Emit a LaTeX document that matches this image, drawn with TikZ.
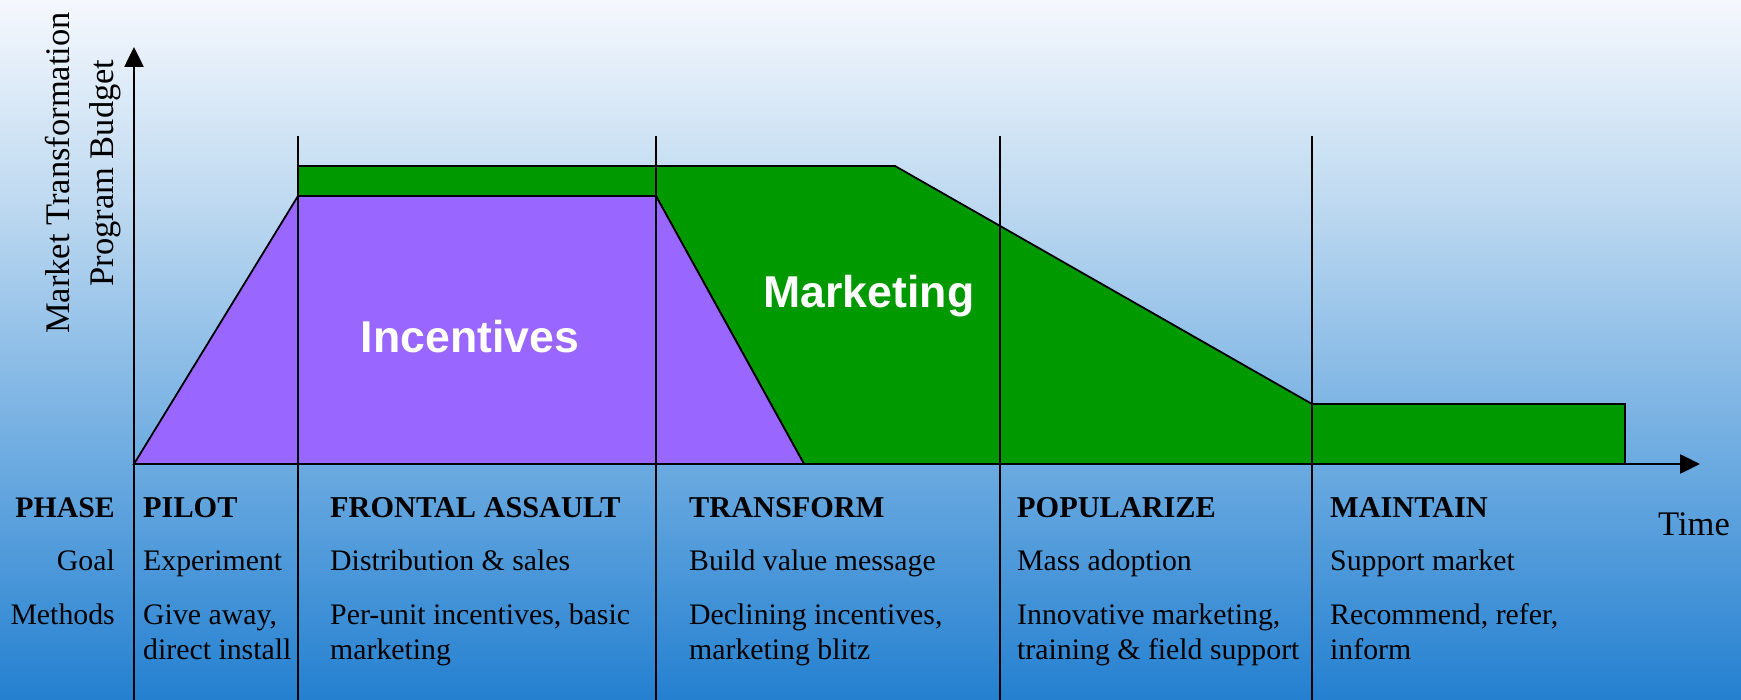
\documentclass[tikz,border=0pt]{standalone}
\usepackage{fontspec}
\setmainfont{Liberation Serif}
\newfontfamily\labelsans{Liberation Sans}
\usetikzlibrary{arrows.meta}

\definecolor{bgA}{RGB}{245,248,253}
\definecolor{bgB}{RGB}{188,216,240}
\definecolor{bgC}{RGB}{110,172,225}
\definecolor{bgD}{RGB}{36,128,208}
\definecolor{incentive}{RGB}{153,102,255}
\definecolor{marketgreen}{RGB}{0,153,0}

% sky background: the filled box spans 25bp..75bp of the shading
\pgfdeclareverticalshading{skyfade}{100bp}{%
  color(0bp)=(bgD); color(25bp)=(bgD); color(42.5bp)=(bgC);
  color(60bp)=(bgB); color(75bp)=(bgA); color(100bp)=(bgA)}

\begin{document}
\begin{tikzpicture}[x=1pt,y=-1pt,
  rule/.style={line width=1.8pt},
  area/.style={draw=black,line width=1.8pt,line join=miter},
  axis/.style={line width=2.6pt,-{Triangle[length=20pt,width=19pt]}},
  cell/.style={anchor=base west,inner sep=0pt,font=\fontsize{29.8}{35}\selectfont},
  cellhead/.style={cell,font=\bfseries\fontsize{30.3}{35}\selectfont},
  rowhead/.style={anchor=base east,inner sep=0pt,font=\fontsize{29.8}{35}\selectfont},
  bigword/.style={anchor=base,inner sep=0pt,text=white,font=\labelsans\bfseries\fontsize{44.6}{50}\selectfont},
  ylabel/.style={anchor=base,inner sep=0pt,rotate=90,font=\fontsize{34.5}{40}\selectfont}
]
\useasboundingbox (0,0) rectangle (1741,700);
\fill[shading=skyfade] (0,0) rectangle (1741,700);

% key points of the budget profile
\coordinate (O)    at (134,464);
\coordinate (upL)  at (298,196);
\coordinate (upR)  at (656,196);
\coordinate (incE) at (804,464);
\coordinate (gL)   at (298,166);
\coordinate (gR)   at (895,166);
\coordinate (mT)   at (1312,404);
\coordinate (mTR)  at (1625,404);
\coordinate (mBR)  at (1625,464);

% marketing budget
\path[area,fill=marketgreen] (upL) -- (gL) -- (gR) -- (mT) -- (mTR) -- (mBR)
  -- (incE) -- (upR) -- cycle;
% incentive budget
\path[area,fill=incentive] (O) -- (upL) -- (upR) -- (incE) -- cycle;

% phase dividers
\foreach \n/\x in {1/298,2/656,3/1000,4/1312}{
  \coordinate (d\n t) at (\x,136);
  \coordinate (d\n b) at (\x,700);
  \draw[rule] (d\n t) -- (d\n b);
}

% axes
\coordinate (ybot) at (134,700);
\coordinate (ytop) at (134,47);
\coordinate (xend) at (1700,464);
\draw[axis] (ybot) -- (ytop);
\draw[axis] (O) -- (xend);

% area labels
\node[bigword] (inc) at (470,353) {Incentives};
\node[bigword] (mkt) at (869,308) {Marketing};

% axis labels
\node[ylabel] (yl1) at (69,173) {Market Transformation};
\node[ylabel] (yl2) at (113,173) {Program Budget};
\node[anchor=base west,inner sep=0pt,font=\fontsize{34.5}{38}\selectfont] (time) at (1658,535) {Time};

% row headings
\node[rowhead,font=\bfseries\fontsize{29.8}{35}\selectfont] (hphase) at (115,517) {PHASE};
\node[rowhead] (hgoal) at (115,570) {Goal};
\node[rowhead] (hmeth) at (115,624) {Methods};

% phase columns
\foreach \k/\x/\ph/\goal/\ma/\mb in {
  1/143/PILOT/Experiment/{Give away,}/{direct install},
  2/330/FRONTAL ASSAULT/{Distribution \& sales}/{Per-unit incentives, basic}/marketing,
  3/689/TRANSFORM/Build value message/{Declining incentives,}/marketing blitz,
  4/1017/POPULARIZE/Mass adoption/{Innovative marketing,}/{training \& field support},
  5/1330/MAINTAIN/Support market/{Recommend, refer,}/inform}{
  \node[cellhead] (ph\k) at (\x,517) {\ph};
  \node[cell] (goal\k) at (\x,570) {\goal};
  \node[cell] (mA\k) at (\x,624) {\ma};
  \node[cell] (mB\k) at (\x,659) {\mb};
}
\end{tikzpicture}
\end{document}
